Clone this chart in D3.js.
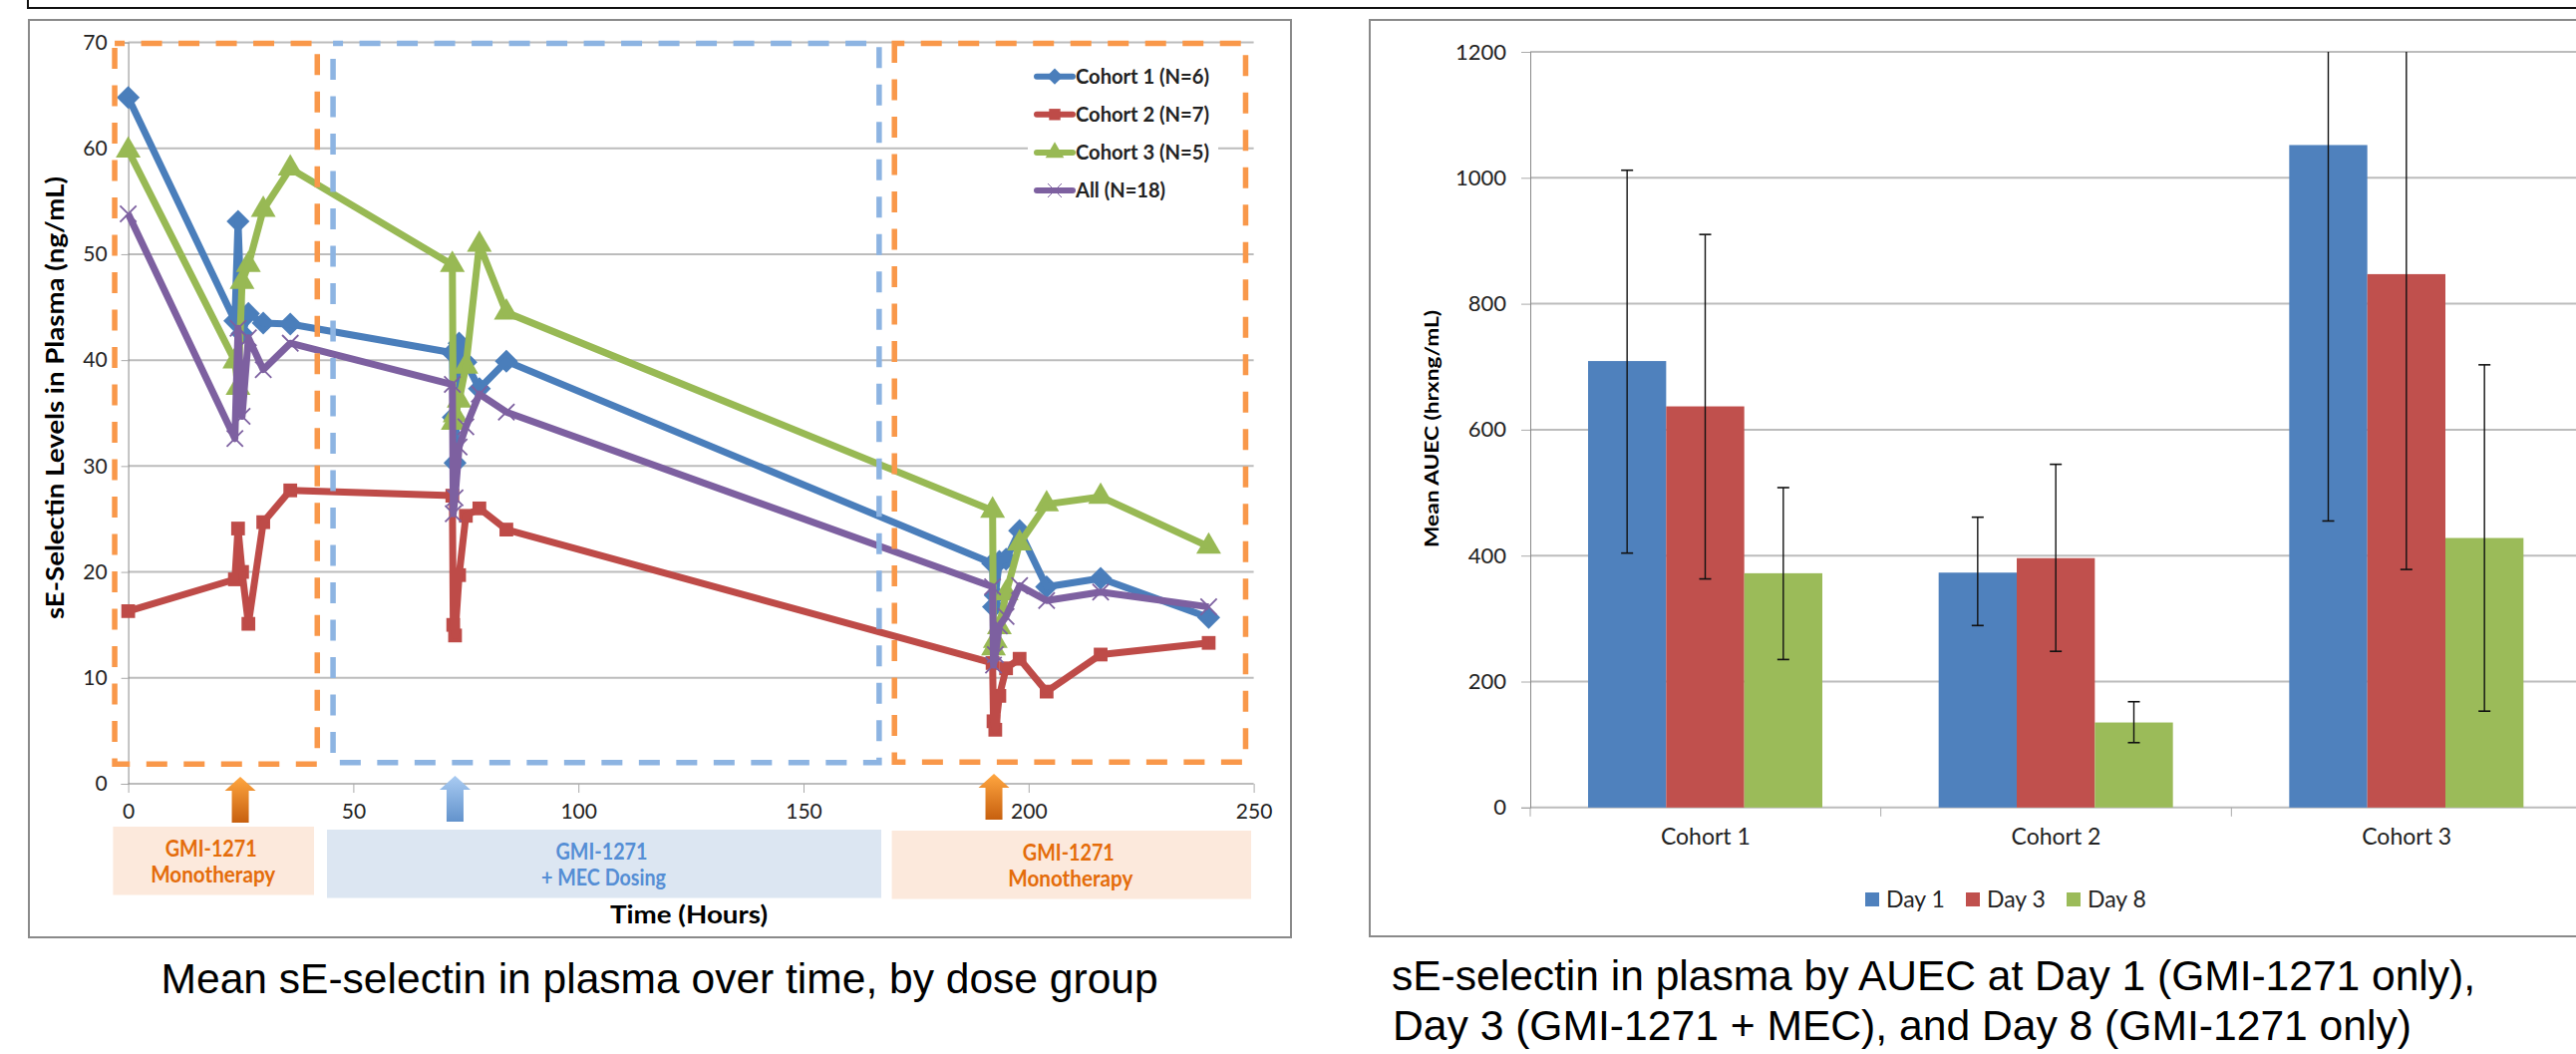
<!DOCTYPE html>
<html>
<head>
<meta charset="utf-8">
<script src="https://cdn.jsdelivr.net/npm/d3@7"></script>
<style>
  html, body { margin: 0; padding: 0; background: #fff; }
  svg { display: block; }
  text { font-family: Lato, "Open Sans", sans-serif; fill: #222; }
  .caption { font-family: "Liberation Sans", Arial, sans-serif; fill: #000; font-size: 43px; }
  .tit { font-weight: 700; fill: #000; }
</style>
</head>
<body>
<svg id="fig" width="2584" height="1057"></svg>
<script>
// left chart: sample times (hours) and mean values
const horas = [0, 23.7, 24.4, 25.3, 26.7, 30, 36,
               72, 72.2, 72.6, 73.5, 75, 78, 84,
               192, 192.2, 192.6, 193.5, 195, 198, 204, 216, 240];
const cohort1 = [64.8, 43.7, 53.1, 42.5, 44.4, 43.5, 43.4,
                 40.7, 34.6, 30.3, 41.6, 39.8, 37.3, 39.9,
                 20.8, 16.7, 17.8, 21.0, 21.2, 23.9, 18.6, 19.4, 15.7];
const cohort2 = [16.3, 19.3, 24.1, 20.0, 15.1, 24.7, 27.7,
                 27.2, 15.0, 14.0, 19.7, 25.3, 26.0, 24.0,
                 11.4, 5.9, 5.1, 8.3, 10.9, 11.8, 8.7, 12.2, 13.3];
const cohort3 = [59.8, 39.9, 37.4, 47.4, 49.0, 54.2, 58.1,
                 49.0, 34.1, 34.8, 36.2, 39.4, 50.9, 44.5,
                 25.8, 12.8, 13.5, 14.8, 18.0, 22.7, 26.4, 27.1, 22.4];
const allN    = [53.8, 32.6, 43.0, 34.7, 42.1, 39.1, 41.6,
                 37.7, 25.5, 27.0, 31.8, 33.7, 36.8, 35.1,
                 18.6, 11.2, 12.2, 14.9, 15.8, 18.7, 17.3, 18.1, 16.7];

const nomes_linhas = ["Cohort 1 (N=6)", "Cohort 2 (N=7)", "Cohort 3 (N=5)", "All (N=18)"];
const ticks_x = [0, 50, 100, 150, 200, 250];
const ticks_y = [0, 10, 20, 30, 40, 50, 60, 70];

// dosing phases (hours) and arrows
const fase_nomes  = [["GMI-1271", "Monotherapy"], ["GMI-1271", "+ MEC Dosing"], ["GMI-1271", "Monotherapy"]];
const fase_inicio = [-3, 45.5, 170.2];
const fase_fim    = [42, 166.8, 248.2];
const fase_base   = [1.85, 2.0, 2.05];
const doses       = [24.9, 72.6, 192.3];

// right chart
const cohortes = ["Cohort 1", "Cohort 2", "Cohort 3"];
const dias = ["Day 1", "Day 3", "Day 8"];
const dia1 = [709, 373, 1052];
const dia3 = [637, 396, 847];
const dia8 = [372, 135, 428];
const dia1_min = [404, 289, 455];
const dia3_min = [363, 248, 378];
const dia8_min = [235, 103, 153];
const dia1_max = [1012, 461, 1648];
const dia3_max = [910, 545, 1316];
const dia8_max = [508, 168, 703];
const ticks_auec = [0, 200, 400, 600, 800, 1000, 1200];

const cores = ["#4A7EBB", "#BE4B48", "#98B954", "#7D60A0"];
const cor_laranja = "#F9984A", cor_azul = "#8DB4E2";

const $svg = d3.select("#fig");

// ---- gradients for the arrows
const defs = $svg.append("defs");
function gradiente(id, c1, c2) {
    const g = defs.append("linearGradient").attr("id", id).attr("x1", 0).attr("x2", 0).attr("y1", 0).attr("y2", 1);
    g.append("stop").attr("offset", "0%").attr("stop-color", c1);
    g.append("stop").attr("offset", "100%").attr("stop-color", c2);
}
gradiente("grad-lar", "#FFA640", "#C7600F");
gradiente("grad-azu", "#A9CBF2", "#6393CC");

// ---- frames
$svg.append("path").attr("d", "M28,0V8H2584").attr("fill", "none").attr("stroke", "#111").attr("stroke-width", 2);
$svg.append("rect").attr("x", 29).attr("y", 20).attr("width", 1266).attr("height", 920)
    .attr("fill", "#fff").attr("stroke", "#8a8a8a").attr("stroke-width", 2);
$svg.append("rect").attr("x", 1374).attr("y", 20).attr("width", 1300).attr("height", 919)
    .attr("fill", "#fff").attr("stroke", "#8a8a8a").attr("stroke-width", 2);

// ---- left chart
const escala_x = d3.scaleLinear().domain([0, 250]).range([128.6, 1257.6]);
const escala_y = d3.scaleLinear().domain([0, 70]).range([786, 42.5]);

const $esq = $svg.append("g");

$esq.append("g").selectAll("line").data(ticks_y).join("line")
    .attr("x1", escala_x(0)).attr("x2", escala_x(250))
    .attr("y1", d => escala_y(d)).attr("y2", d => escala_y(d))
    .attr("stroke", "#bcbcbc").attr("stroke-width", 2);

const eixo_y = d3.axisLeft(escala_y).tickValues(ticks_y).tickSize(7).tickPadding(14);
const $eixo_y = $esq.append("g").attr("transform", `translate(${escala_x(0)},0)`).call(eixo_y);
$eixo_y.select(".domain").attr("stroke", "#888");
$eixo_y.selectAll(".tick line").attr("stroke", "#aaa");
$eixo_y.selectAll("text").style("font-size", "21px").style("font-family", "Lato").attr("fill", "#222");

const eixo_x = d3.axisBottom(escala_x).tickValues(ticks_x).tickSize(9).tickPadding(11).tickSizeOuter(0);
const $eixo_x = $esq.append("g").attr("transform", `translate(0,${escala_y(0)})`).call(eixo_x);
$eixo_x.select(".domain").attr("stroke", "none");
$eixo_x.selectAll(".tick line").attr("stroke", "#aaa");
$eixo_x.selectAll("text").style("font-size", "21px").style("font-family", "Lato").attr("fill", "#222");

// series
const series = [cohort1, cohort2, cohort3, allN];
const simbolos = [d3.symbolDiamond2, d3.symbolSquare, d3.symbolTriangle, d3.symbolTimes];
const tamanhos = [340, 190, 270, 175];

const linha = d3.line().x((d, i) => escala_x(horas[i])).y(d => escala_y(d));

series.forEach(function(vals, s) {
    const $g = $esq.append("g");
    $g.selectAll("path.mk").data(vals).join("path").attr("class", "mk")
        .attr("d", d3.symbol().type(simbolos[s]).size(tamanhos[s]))
        .attr("transform", (d, i) => `translate(${escala_x(horas[i])},${escala_y(d)})`)
        .attr("fill", s == 3 ? "none" : cores[s])
        .attr("stroke", s == 3 ? cores[s] : "none")
        .attr("stroke-width", 1.8);
    $g.append("path").datum(vals).attr("d", linha)
        .attr("fill", "none").attr("stroke", cores[s]).attr("stroke-width", 7)
        .attr("stroke-linejoin", "round");
});

// dashed phase boxes
fase_inicio.forEach(function(ini, i) {
    $esq.append("rect")
        .attr("x", escala_x(ini)).attr("y", escala_y(69.9))
        .attr("width", escala_x(fase_fim[i]) - escala_x(ini))
        .attr("height", escala_y(fase_base[i]) - escala_y(69.9))
        .attr("fill", "none").attr("stroke", i == 1 ? cor_azul : cor_laranja)
        .attr("stroke-width", 5.5).attr("stroke-dasharray", "21 16.5").attr("stroke-dashoffset", 11);
});

// legend (sits on a white patch, the 60 gridline stops behind it)
$esq.append("rect").attr("x", 1031).attr("y", 60).attr("width", 191).attr("height", 145).attr("fill", "#fff");
const $leg = $esq.selectAll("g.leg").data(nomes_linhas).join("g").attr("class", "leg")
    .attr("transform", (d, i) => `translate(1038,${76.7 + i * 38.1})`);
$leg.append("path").attr("d", "M2,0H38").attr("stroke", (d, i) => cores[i]).attr("stroke-width", 6)
    .attr("stroke-linecap", "round");
$leg.append("path").attr("transform", "translate(20,0)")
    .attr("d", (d, i) => d3.symbol().type(simbolos[i]).size([170, 130, 150, 130][i])())
    .attr("fill", (d, i) => i == 3 ? "none" : cores[i])
    .attr("stroke", (d, i) => i == 3 ? cores[i] : "none");
$leg.append("text").attr("x", 41).attr("dy", "0.35em").text(d => d)
    .attr("textLength", (d, i) => i == 3 ? 90 : 134).attr("lengthAdjust", "spacingAndGlyphs")
    .style("font-size", "21px").style("font-weight", 700).attr("fill", "#111");

// arrows
const seta = "M0,0L15.5,14H8.5V46H-8.5V14H-15.5Z";
$esq.selectAll("path.seta").data(doses).join("path").attr("class", "seta")
    .attr("d", seta)
    .attr("transform", (d, i) => `translate(${escala_x(d)},${[779, 778, 776][i]})`)
    .attr("fill", (d, i) => i == 1 ? "url(#grad-azu)" : "url(#grad-lar)");

// phase label boxes
const caixas = [[113.4, 315, 829], [328, 884, 832], [894.6, 1255, 833]];
caixas.forEach(function(c, i) {
    $esq.append("rect").attr("x", c[0]).attr("y", c[2]).attr("width", c[1] - c[0]).attr("height", 68.5)
        .attr("fill", i == 1 ? "#DCE6F2" : "#FCE9DC");
    fase_nomes[i].forEach(function(t, k) {
        $esq.append("text").text(t)
            .attr("x", (c[0] + c[1]) / 2 + [-2.5, -2.5, -3][i] + k * 2).attr("y", c[2] + 22 + k * 26.7)
            .attr("dy", "0.35em").attr("text-anchor", "middle")
            .attr("textLength", k == 0 ? 92 : 125).attr("lengthAdjust", "spacingAndGlyphs")
            .style("font-size", "22px").style("font-weight", 700)
            .style("fill", i == 1 ? "#558ED5" : "#E46C0A");
    });
});

$esq.append("text").attr("class", "tit").text("Time (Hours)")
    .attr("x", 691).attr("y", 917).attr("dy", "0.35em").attr("text-anchor", "middle")
    .attr("textLength", 158).attr("lengthAdjust", "spacingAndGlyphs").style("font-size", "25px");

$esq.append("text").attr("class", "tit").text("sE-Selectin Levels in Plasma (ng/mL)")
    .attr("transform", "translate(56,399) rotate(-90)").attr("dy", "0.35em").attr("text-anchor", "middle")
    .attr("textLength", 444).attr("lengthAdjust", "spacingAndGlyphs").style("font-size", "24px");

$svg.append("text").attr("class", "caption").text("Mean sE-selectin in plasma over time, by dose group")
    .attr("x", 161.6).attr("y", 981).attr("dy", "0.35em")
    .attr("textLength", 1000).attr("lengthAdjust", "spacingAndGlyphs");

// ---- right chart
const escala_cat = d3.scaleBand().domain(cohortes).range([1535, 2590]);
const escala_dia = d3.scaleBand().domain(dias).range([58, 293]);
const escala_auec = d3.scaleLinear().domain([0, 1200]).range([809.8, 52]).clamp(true);

const $dir = $svg.append("g");

$dir.append("g").selectAll("line").data(ticks_auec).join("line")
    .attr("x1", 1535).attr("x2", 2584)
    .attr("y1", d => escala_auec(d)).attr("y2", d => escala_auec(d))
    .attr("stroke", "#bcbcbc").attr("stroke-width", 2);

const eixo_auec = d3.axisLeft(escala_auec).tickValues(ticks_auec).tickFormat(d3.format("d")).tickSize(9).tickPadding(15);
const $eixo_auec = $dir.append("g").attr("transform", "translate(1535,0)").call(eixo_auec);
$eixo_auec.select(".domain").attr("stroke", "#888");
$eixo_auec.selectAll(".tick line").attr("stroke", "#aaa");
$eixo_auec.selectAll("text").style("font-size", "22px").style("font-family", "Lato").attr("fill", "#222");

const eixo_cat = d3.axisBottom(escala_cat).tickSize(0).tickPadding(21).tickSizeOuter(0);
const $eixo_cat = $dir.append("g").attr("transform", `translate(0,${escala_auec(0)})`).call(eixo_cat);
$eixo_cat.select(".domain").attr("stroke", "none");
$eixo_cat.selectAll("text").style("font-size", "23px").style("font-family", "Lato").attr("fill", "#222");

// separators between categories
$dir.append("g").selectAll("line").data([0, 1, 2]).join("line")
    .attr("x1", d => 1535 + d * escala_cat.step()).attr("x2", d => 1535 + d * escala_cat.step())
    .attr("y1", escala_auec(0)).attr("y2", escala_auec(0) + 9)
    .attr("stroke", "#aaa");

const valores = [dia1, dia3, dia8];
const minimos = [dia1_min, dia3_min, dia8_min];
const maximos = [dia1_max, dia3_max, dia8_max];
const cores_barra = ["#4F81BD", "#C0504D", "#9BBB59"];

dias.forEach(function(dia, s) {
    const $g = $dir.append("g");
    const cx = c => escala_cat(c) + escala_dia(dia);
    const larg = escala_dia.bandwidth();
    $g.selectAll("rect").data(cohortes).join("rect")
        .attr("x", c => cx(c)).attr("width", larg)
        .attr("y", (c, i) => escala_auec(valores[s][i]))
        .attr("height", (c, i) => escala_auec(0) - escala_auec(valores[s][i]))
        .attr("fill", cores_barra[s]);
    // error bars, the ones above 1200 run out of the plot with no cap
    $g.selectAll("line.err").data(cohortes).join("line").attr("class", "err")
        .attr("x1", c => cx(c) + larg / 2).attr("x2", c => cx(c) + larg / 2)
        .attr("y1", (c, i) => escala_auec(minimos[s][i]))
        .attr("y2", (c, i) => escala_auec(maximos[s][i]))
        .attr("stroke", "#111").attr("stroke-width", 1.4);
    $g.selectAll("line.cap-b").data(cohortes).join("line").attr("class", "cap-b")
        .attr("x1", c => cx(c) + larg / 2 - 6).attr("x2", c => cx(c) + larg / 2 + 6)
        .attr("y1", (c, i) => escala_auec(minimos[s][i]))
        .attr("y2", (c, i) => escala_auec(minimos[s][i]))
        .attr("stroke", "#111").attr("stroke-width", 1.6);
    $g.selectAll("line.cap-t").data(cohortes.filter((c, i) => maximos[s][i] <= 1200)).join("line").attr("class", "cap-t")
        .attr("x1", c => cx(c) + larg / 2 - 6).attr("x2", c => cx(c) + larg / 2 + 6)
        .attr("y1", c => escala_auec(maximos[s][cohortes.indexOf(c)]))
        .attr("y2", c => escala_auec(maximos[s][cohortes.indexOf(c)]))
        .attr("stroke", "#111").attr("stroke-width", 1.6);
});

// legend
const $leg2 = $dir.selectAll("g.leg2").data(dias).join("g").attr("class", "leg2")
    .attr("transform", (d, i) => `translate(${1871 + i * 101},902)`);
$leg2.append("rect").attr("y", -7).attr("width", 14).attr("height", 14).attr("fill", (d, i) => cores_barra[i]);
$leg2.append("text").attr("x", 21).attr("dy", "0.35em").text(d => d).style("font-size", "23px");

$dir.append("text").attr("class", "tit").text("Mean AUEC (hrxng/mL)")
    .attr("transform", "translate(1436,430) rotate(-90)").attr("dy", "0.35em").attr("text-anchor", "middle")
    .attr("textLength", 238).attr("lengthAdjust", "spacingAndGlyphs").style("font-size", "19px");

$svg.append("text").attr("class", "caption").text("sE-selectin in plasma by AUEC at Day 1 (GMI-1271 only),")
    .attr("x", 1396).attr("y", 978).attr("dy", "0.35em")
    .attr("textLength", 1087).attr("lengthAdjust", "spacingAndGlyphs");
$svg.append("text").attr("class", "caption").text("Day 3 (GMI-1271 + MEC), and Day 8 (GMI-1271 only)")
    .attr("x", 1397).attr("y", 1028).attr("dy", "0.35em")
    .attr("textLength", 1022).attr("lengthAdjust", "spacingAndGlyphs");
</script>
</body>
</html>
